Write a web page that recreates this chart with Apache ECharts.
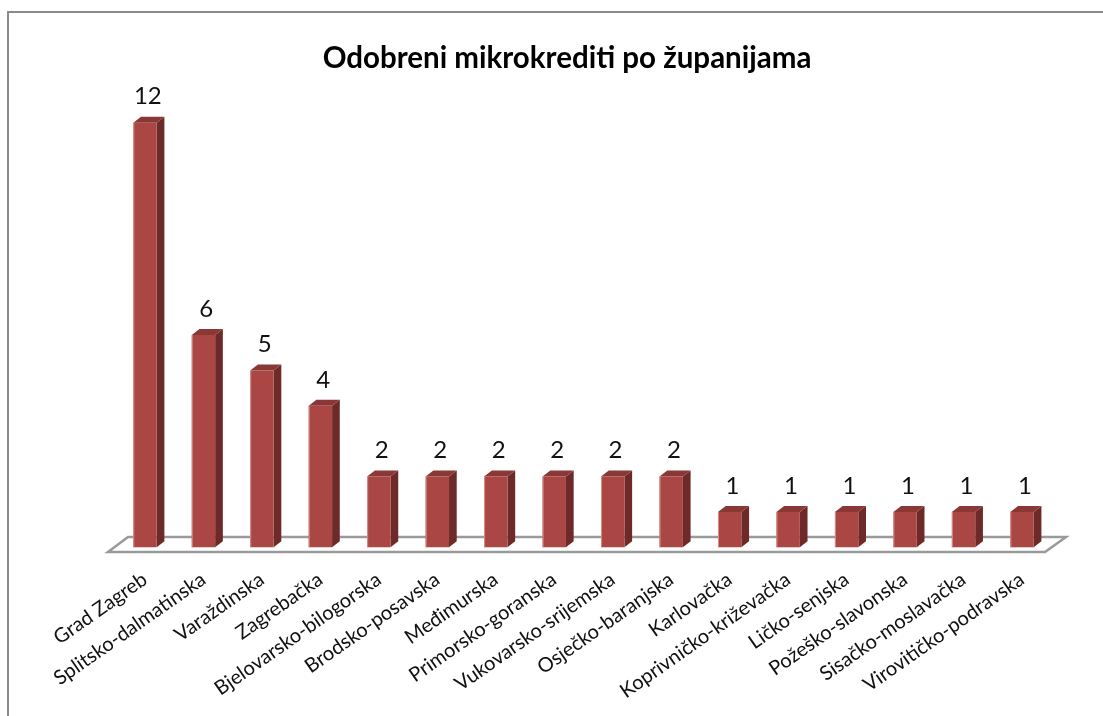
<!DOCTYPE html>
<html>
<head>
<meta charset="utf-8">
<style>
html,body{margin:0;padding:0;background:#fff;}
#chart{width:1103px;height:716px;}
</style>
<script src="https://cdn.jsdelivr.net/npm/echarts@6/dist/echarts.min.js"></script>
</head>
<body>
<div id="chart"></div>
<script>
var categories = ['Grad Zagreb','Splitsko-dalmatinska','Varaždinska','Zagrebačka','Bjelovarsko-bilogorska','Brodsko-posavska','Međimurska','Primorsko-goranska','Vukovarsko-srijemska','Osječko-baranjska','Karlovačka','Koprivničko-križevačka','Ličko-senjska','Požeško-slavonska','Sisačko-moslavačka','Virovitičko-podravska'];
var values = [12,6,5,4,2,2,2,2,2,2,1,1,1,1,1,1];
var titleText = 'Odobreni mikrokrediti po županijama';

var chart = echarts.init(document.getElementById('chart'));
var DX = 7.7, DY = 6;
var option = {
  backgroundColor: '#fff',
  animation: false,
  title: {
    text: titleText,
    left: 562, top: 38, textAlign: 'center',
    textStyle: {fontFamily: 'Lato', fontWeight: 'bold', fontSize: 29.5, color: '#000'}
  },
  graphic: [
    {type: 'rect', shape: {x: 8, y: 12, width: 1200, height: 800}, style: {fill: 'none', stroke: '#8a8a8a', lineWidth: 2}, z: 0},
    {type: 'polygon', shape: {points: [[108,552],[1045,552],[1066,537],[128,537]]}, style: {fill: '#fff', stroke: '#9a9a9a', lineWidth: 2.5}, z: 1}
  ],
  grid: {left: 115.75, right: 1103 - 1051.25, top: 122.7, bottom: 716 - 547.3},
  xAxis: {
    type: 'category', data: categories,
    axisLine: {show: false}, axisTick: {show: false}, splitLine: {show: false},
    axisLabel: {interval: 0, rotate: 35, margin: 30, fontFamily: 'Lato', fontSize: 20, color: '#111'}
  },
  yAxis: {type: 'value', min: 0, max: 12, show: false, splitLine: {show: false}},
  series: [{
    type: 'custom',
    z: 5,
    renderItem: function (params, api) {
      var i = api.value(0), v = api.value(1);
      var base = api.coord([i, 0]);
      var top = api.coord([i, v]);
      var band = api.size([1, 0])[0];
      var w = band * 0.4;
      var x0 = base[0] - w / 2, x1 = base[0] + w / 2;
      var yb = base[1], yt = top[1];
      return {
        type: 'group',
        children: [
          {type: 'polygon', shape: {points: [[x1, yt], [x1 + DX, yt - DY], [x1 + DX, yb - DY], [x1, yb]]}, style: {fill: '#6E2A28'}},
          {type: 'polygon', shape: {points: [[x0, yt], [x0 + DX, yt - DY], [x1 + DX, yt - DY], [x1, yt]]}, style: {fill: '#8A3835'}},
          {type: 'rect', shape: {x: x0, y: yt, width: w, height: yb - yt}, style: {fill: '#AA4643'}},
          {type: 'line', shape: {x1: x0 + 0.5, y1: yt, x2: x0 + 0.5, y2: yb}, style: {stroke: '#D4908C', lineWidth: 1}},
          {type: 'text', style: {text: String(v), x: base[0] + DX / 2 - 1, y: yt - DY - 20, align: 'center', verticalAlign: 'middle', font: '24px Lato', fill: '#111'}}
        ]
      };
    },
    encode: {x: 0, y: 1},
    data: values.map(function (v, i) { return [i, v]; })
  }]
};
chart.setOption(option);
</script>
</body>
</html>
